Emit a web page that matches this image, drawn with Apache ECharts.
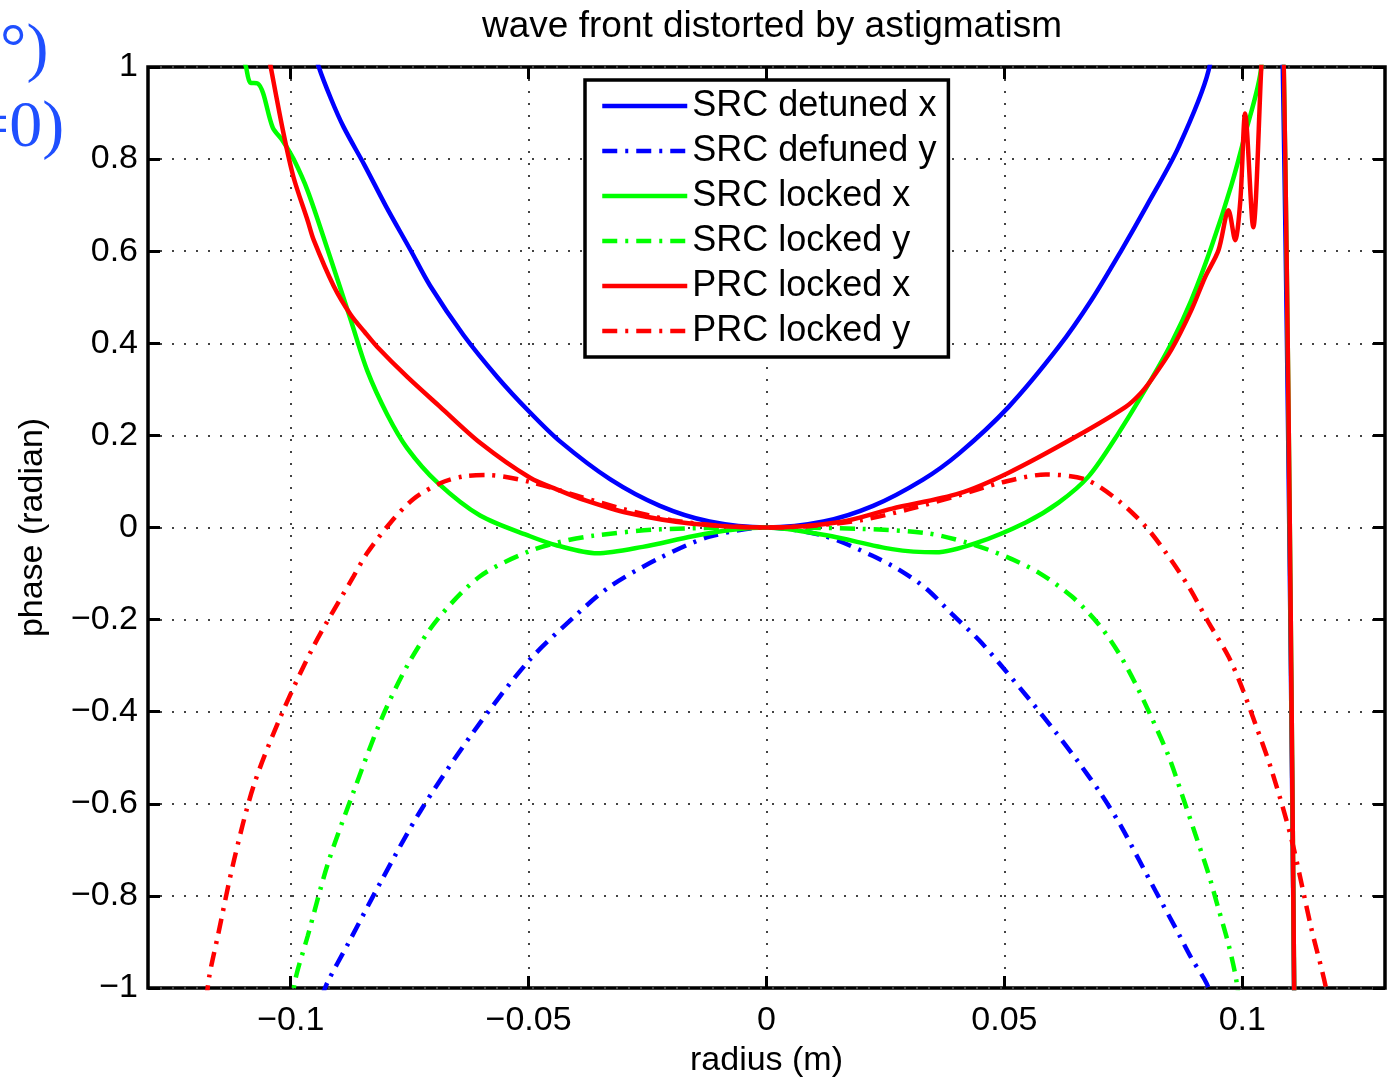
<!DOCTYPE html>
<html>
<head>
<meta charset="utf-8">
<script src="https://cdn.jsdelivr.net/npm/echarts@6/dist/echarts.min.js"></script>
<style>
  html, body { margin: 0; padding: 0; background: #fff; }
  #chart { width: 1395px; height: 1083px; }
</style>
</head>
<body>
<div id="chart"></div>
<script>
// tick positions
const xTicks = [-0.1, -0.05, 0, 0.05, 0.1];
const yTicks = [-1, -0.8, -0.6, -0.4, -0.2, 0, 0.2, 0.4, 0.6, 0.8, 1];

// [radius (m), phase (radian)]
const srcDetunedX = [
  [-0.105, 1.35], [-0.0941, 1.0], [-0.0915, 0.93], [-0.0889, 0.87], [-0.0845, 0.787],
  [-0.080, 0.698], [-0.0748, 0.602], [-0.0707, 0.525], [-0.0637, 0.418], [-0.0566, 0.327],
  [-0.050, 0.253], [-0.0434, 0.187], [-0.0329, 0.105], [-0.0224, 0.047], [-0.012, 0.013], [0, 0],
  [0.012, 0.013], [0.0224, 0.047], [0.0329, 0.104], [0.0405, 0.161], [0.0509, 0.262],
  [0.0614, 0.392], [0.0683, 0.494], [0.0746, 0.602], [0.080, 0.70], [0.0866, 0.826],
  [0.0929, 0.992], [0.098, 1.3], [0.1035, 1.6], [0.1075, 1.5], [0.1113, -1.5]
];
const srcDefunedY = [
  [-0.0935, -1.02], [-0.0922, -0.986], [-0.088, -0.905], [-0.0811, -0.77], [-0.0727, -0.615],
  [-0.0616, -0.444], [-0.05, -0.29], [-0.04, -0.19], [-0.0329, -0.128], [-0.0224, -0.066],
  [-0.012, -0.02], [0, 0], [0.012, -0.018], [0.0224, -0.062], [0.0279, -0.092], [0.0335, -0.132],
  [0.039, -0.188], [0.0447, -0.245], [0.0495, -0.302], [0.0558, -0.38], [0.0608, -0.445],
  [0.0656, -0.51], [0.0704, -0.58], [0.0746, -0.65], [0.0782, -0.72], [0.0818, -0.79],
  [0.086, -0.87], [0.0893, -0.935], [0.0925, -0.99], [0.0945, -1.05]
];
const srcLockedX = [
  [-0.112, 1.1], [-0.1094, 1.0], [-0.1085, 0.966], [-0.1069, 0.964], [-0.1058, 0.943],
  [-0.1038, 0.869], [-0.1017, 0.84], [-0.0994, 0.80], [-0.0964, 0.73], [-0.0922, 0.602],
  [-0.0874, 0.451], [-0.0839, 0.34], [-0.0797, 0.245], [-0.0755, 0.172], [-0.0692, 0.098],
  [-0.0602, 0.026], [-0.0497, -0.019], [-0.044, -0.039], [-0.0356, -0.056], [-0.026, -0.042],
  [-0.0155, -0.019], [-0.0071, -0.005], [0, 0], [0.0126, -0.017], [0.0264, -0.047],
  [0.0356, -0.054], [0.044, -0.034], [0.0545, 0.011], [0.0614, 0.054], [0.0677, 0.111],
  [0.074, 0.205], [0.0809, 0.322], [0.0851, 0.40], [0.0893, 0.494], [0.0935, 0.609],
  [0.0977, 0.743], [0.1005, 0.85], [0.104, 1.0], [0.106, 1.4], [0.1075, 1.5], [0.1113, -1.5]
];
const srcLockedY = [
  [-0.1, -1.05], [-0.099, -0.98], [-0.0964, -0.886], [-0.0922, -0.73], [-0.0868, -0.574],
  [-0.0811, -0.42], [-0.0755, -0.30], [-0.0692, -0.2], [-0.0602, -0.106], [-0.05, -0.052],
  [-0.0428, -0.03], [-0.0365, -0.018], [-0.0224, -0.004], [0, 0], [0.02, -0.003],
  [0.0335, -0.012], [0.0419, -0.032], [0.0503, -0.063], [0.0572, -0.098], [0.0642, -0.15],
  [0.0698, -0.21], [0.074, -0.272], [0.0776, -0.34], [0.0809, -0.412], [0.0845, -0.496],
  [0.0872, -0.576], [0.0901, -0.665], [0.0929, -0.752], [0.095, -0.828], [0.0971, -0.905],
  [0.0987, -0.98], [0.0995, -1.05]
];
const prcLockedX = [
  [-0.106, 1.1], [-0.1042, 1.0], [-0.1015, 0.855], [-0.0994, 0.76], [-0.0964, 0.665],
  [-0.0952, 0.625], [-0.091, 0.525], [-0.0874, 0.462], [-0.0845, 0.425], [-0.0818, 0.392],
  [-0.0755, 0.327], [-0.0686, 0.262], [-0.0602, 0.184], [-0.0497, 0.108], [-0.0434, 0.08],
  [-0.0392, 0.063], [-0.0293, 0.032], [-0.0155, 0.008], [0, 0], [0.0155, 0.012],
  [0.0264, 0.041], [0.0405, 0.074], [0.0509, 0.119], [0.065, 0.197], [0.0755, 0.262],
  [0.0785, 0.29], [0.0809, 0.321], [0.0851, 0.386], [0.0893, 0.472], [0.0922, 0.544],
  [0.095, 0.602], [0.0971, 0.689], [0.0985, 0.624], [0.0996, 0.711], [0.1006, 0.899],
  [0.1023, 0.652], [0.104, 1.0], [0.106, 1.4], [0.1075, 1.5], [0.1113, -1.5]
];
const prcLockedY = [
  [-0.1185, -1.1], [-0.1172, -0.98], [-0.1153, -0.886], [-0.112, -0.726], [-0.1078, -0.561],
  [-0.1021, -0.41], [-0.0952, -0.258], [-0.0868, -0.106], [-0.0839, -0.055], [-0.079, 0.011],
  [-0.0742, 0.062], [-0.0686, 0.096], [-0.0637, 0.111], [-0.0587, 0.114], [-0.0497, 0.099],
  [-0.0392, 0.067], [-0.03, 0.04], [-0.02, 0.016], [-0.01, 0.004], [0, 0], [0.01, 0.004],
  [0.02, 0.016], [0.03, 0.04], [0.0405, 0.07], [0.0495, 0.098], [0.0587, 0.115],
  [0.0671, 0.104], [0.074, 0.058], [0.0797, 0.002], [0.0839, -0.054], [0.0887, -0.128],
  [0.0929, -0.206], [0.0971, -0.28], [0.0998, -0.344], [0.1027, -0.425], [0.1061, -0.525],
  [0.1103, -0.675], [0.1145, -0.87], [0.1176, -1.0], [0.119, -1.1]
];

const FONT = 'Liberation Sans';
const dashDot = [15, 8, 3, 8];
const fmt = v => String(+v.toFixed(2)).replace('-', '\u2212');

const chart = echarts.init(document.getElementById('chart'));

function xAxisDef(pos, main) {
  return {
    type: 'value', position: pos, min: -0.13, max: 0.13,
    axisLine: { show: false, onZero: false },
    axisTick: { show: true, inside: true, length: 12, customValues: xTicks,
      lineStyle: { color: '#000', width: 3 } },
    axisLabel: { show: main, customValues: xTicks, formatter: fmt, margin: 16,
      color: '#000', fontSize: 34, fontFamily: FONT },
    splitLine: { show: main, lineStyle: { color: '#444', width: 2, type: [2, 10] } },
    name: main ? 'radius (m)' : '', nameLocation: 'middle', nameGap: 56,
    nameTextStyle: { color: '#000', fontSize: 34, fontFamily: FONT }
  };
}
function yAxisDef(pos, main) {
  return {
    type: 'value', position: pos, min: -1, max: 1, interval: 0.2,
    axisLine: { show: false, onZero: false },
    axisTick: { show: true, inside: true, length: 12, lineStyle: { color: '#000', width: 3 } },
    axisLabel: { show: main, formatter: fmt, margin: 10,
      color: '#000', fontSize: 34, fontFamily: FONT },
    splitLine: { show: main, lineStyle: { color: '#444', width: 2, type: [2, 10] } },
    name: main ? 'phase (radian)' : '', nameLocation: 'middle', nameGap: 98,
    nameTextStyle: { color: '#000', fontSize: 34, fontFamily: FONT }
  };
}

function line(name, data, color, dashed) {
  return {
    name, type: 'line', data, smooth: 0.3, symbol: 'none',
    xAxisIndex: 0, yAxisIndex: 0,
    lineStyle: { color, width: 4.5, type: dashed ? dashDot : 'solid' },
    itemStyle: { color }
  };
}

chart.setOption({
  animation: false,
  title: {
    text: 'wave front distorted by astigmatism', left: 767, textAlign: 'center', top: 3,
    textStyle: { color: '#000', fontSize: 37, fontWeight: 'normal', fontFamily: FONT }
  },
  grid: { left: 148, right: 10, top: 67, bottom: 93, show: true,
    borderColor: '#000', borderWidth: 3.5, backgroundColor: '#fff' },
  legend: {
    orient: 'vertical', left: 585, top: 80, selectedMode: false,
    itemWidth: 85, itemHeight: 14, itemGap: 9,
    padding: [8, 12, 8, 15],
    itemStyle: { opacity: 0 },
    lineStyle: { width: 4.5 },
    backgroundColor: '#fff', borderColor: '#000', borderWidth: 3.5,
    textStyle: { color: '#000', fontSize: 36, fontFamily: FONT, lineHeight: 36 }
  },
  xAxis: [xAxisDef('bottom', true), xAxisDef('top', false)],
  yAxis: [yAxisDef('left', true), yAxisDef('right', false)],
  graphic: [
    { type: 'text', left: 0, top: 19, style: { text: '\u00b0)', fill: '#1f4fff',
      font: '66px "Liberation Serif"' } },
    { type: 'text', left: -28, top: 96, style: { text: '=0)', fill: '#1f4fff',
      font: '66px "Liberation Serif"' } }
  ],
  series: [
    line('SRC detuned x', srcDetunedX, '#0000ff', false),
    line('SRC defuned y', srcDefunedY, '#0000ff', true),
    line('SRC locked x', srcLockedX, '#00ff00', false),
    line('SRC locked y', srcLockedY, '#00ff00', true),
    line('PRC locked x', prcLockedX, '#ff0000', false),
    line('PRC locked y', prcLockedY, '#ff0000', true)
  ]
});
</script>
</body>
</html>
